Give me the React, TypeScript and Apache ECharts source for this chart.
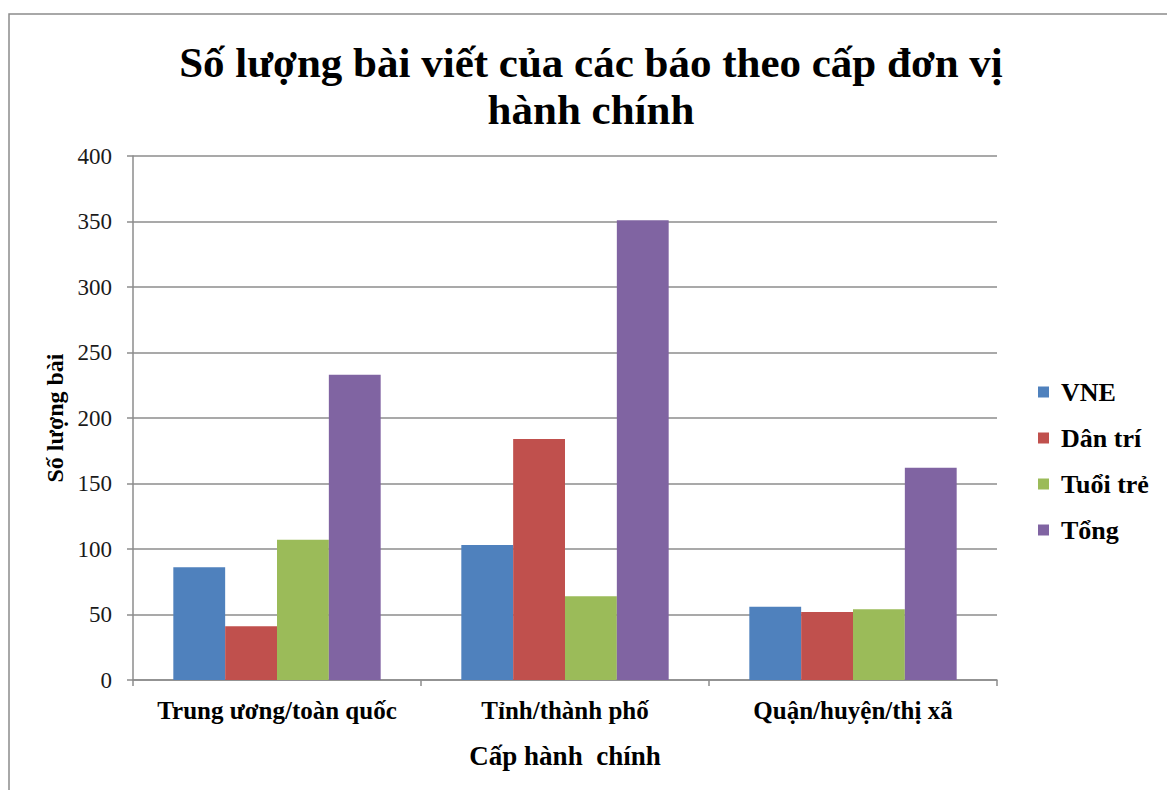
import React, { useEffect, useRef } from "react";
import * as echarts from "echarts";

const categories = ["Trung ương/toàn quốc", "Tỉnh/thành phố", "Quận/huyện/thị xã"];
const seriesNames = ["VNE", "Dân trí", "Tuổi trẻ", "Tổng"];
const vne = [86, 103, 56];
const danTri = [41, 184, 52];
const tuoiTre = [107, 64, 54];
const tong = [233, 351, 162];
const colors = ["#4F81BD", "#C0504D", "#9BBB59", "#8064A2"];
const titleText = "Số lượng bài viết của các báo theo cấp đơn vị\nhành chính";
const yAxisName = "Số lượng bài";
const xAxisName = "Cấp hành  chính";

const FONT = "'Liberation Serif', 'Times New Roman', serif";

export default function App() {
  const ref = useRef<HTMLDivElement>(null);
  useEffect(() => {
    if (!ref.current) return;
    const chart = echarts.init(ref.current, undefined, { renderer: "svg" });
    const values = [vne, danTri, tuoiTre, tong];
    chart.setOption({
      animation: false,
      backgroundColor: "#ffffff",
      color: colors,
      title: {
        text: titleText,
        left: 586,
        textAlign: "center",
        top: 34,
        textStyle: {
          fontFamily: FONT,
          fontWeight: "bold",
          fontSize: 43,
          lineHeight: 47,
          color: "#000",
        },
      },
      graphic: [
        {
          type: "rect",
          shape: { x: 9, y: 14, width: 1300, height: 900 },
          style: { fill: "none", stroke: "#8c8c8c", lineWidth: 1.5 },
          silent: true,
        },
      ],
      legend: {
        orient: "vertical",
        left: 1033,
        top: 374,
        itemWidth: 11,
        itemHeight: 11,
        itemGap: 20,
        icon: "rect",
        data: seriesNames,
        textStyle: {
          fontFamily: FONT,
          fontWeight: "bold",
          fontSize: 26,
          color: "#000",
          padding: [0, 0, 0, 7],
        },
      },
      grid: { left: 133, right: 170, top: 156, bottom: 110 },
      xAxis: {
        type: "category",
        data: categories,
        name: xAxisName,
        nameLocation: "middle",
        nameGap: 62,
        nameTextStyle: { fontFamily: FONT, fontWeight: "bold", fontSize: 27, color: "#000" },
        axisLine: { lineStyle: { color: "#8c8c8c", width: 1.5 } },
        axisTick: { show: true, interval: 0, length: 6, lineStyle: { color: "#8c8c8c", width: 1.5 } },
        axisLabel: {
          interval: 0,
          hideOverlap: false,
          fontFamily: FONT,
          fontWeight: "bold",
          fontSize: 25,
          color: "#000",
          margin: 18,
        },
      },
      yAxis: {
        type: "value",
        min: 0,
        max: 400,
        interval: 50,
        name: yAxisName,
        nameLocation: "middle",
        nameGap: 63,
        nameRotate: 90,
        nameTextStyle: { fontFamily: FONT, fontWeight: "bold", fontSize: 24, color: "#000" },
        axisLine: { show: true, lineStyle: { color: "#8c8c8c", width: 1.5 } },
        axisTick: { show: true, length: 6, lineStyle: { color: "#8c8c8c", width: 1.5 } },
        axisLabel: { fontFamily: FONT, fontSize: 23, color: "#1a1a1a", margin: 21 },
        splitLine: { lineStyle: { color: "#8c8c8c", width: 1.5 } },
      },
      series: seriesNames.map((name, i) => ({
        name,
        type: "bar",
        data: values[i],
        barGap: "0%",
        barCategoryGap: "28%",
        itemStyle: { color: colors[i] },
      })),
    });
    return () => chart.dispose();
  }, []);
  return (
    <div
      ref={ref}
      style={{ position: "fixed", left: 0, top: 0, width: 1167, height: 790 }}
    />
  );
}
